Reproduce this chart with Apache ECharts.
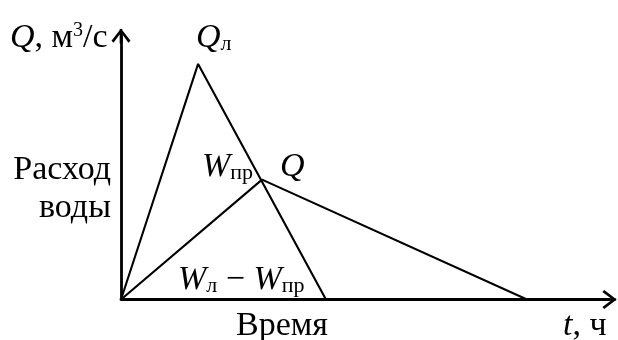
<!DOCTYPE html>
<html>
<head>
<meta charset="utf-8">
<script src="https://cdn.jsdelivr.net/npm/echarts@6/dist/echarts.min.js"></script>
<style>
  html, body { margin: 0; padding: 0; background: #fff; }
  #chart { width: 618px; height: 340px; }
</style>
</head>
<body>
<div id="chart"></div>
<script>
// Schematic flood hydrograph: inflow triangle and attenuated outflow
var timeRange = [0, 100];
var flowRange = [0, 100];
// inflow hydrograph: start, peak Qл, end
var inflowT = [0, 15.8, 42];
var inflowQ = [0, 89.4, 0];
// outflow hydrograph: start, peak Q (on the falling limb), end
var outflowT = [0, 28.9, 83.2];
var outflowQ = [0, 45.5, 0];

function pairs(xs, ys) { return xs.map(function (x, i) { return [x, ys[i]]; }); }

var FONT = 'Liberation Serif';
var BASE = 34, SUB = 22;
var rich = {
  i: { fontFamily: FONT, fontSize: BASE, fontStyle: 'italic', color: '#000' },
  n: { fontFamily: FONT, fontSize: BASE, color: '#000' },
  s: { fontFamily: FONT, fontSize: SUB, color: '#000', verticalAlign: 'bottom' },
  p: { fontFamily: FONT, fontSize: 20, color: '#000', verticalAlign: 'top' }
};
function label(x, y, text, align) {
  return {
    type: 'text', x: x, y: y, silent: true,
    style: { text: text, rich: rich, font: BASE + 'px "' + FONT + '"', align: align || 'left', verticalAlign: 'bottom', fill: '#000' }
  };
}

// open arrow head with a stem, pointing up
var arrowHead = 'path://M0 13 L10 0 L20 13 L17.8 15 L10 4.4 L2.2 15 Z M8.6 0.5 L11.4 0.5 L11.4 16 L8.6 16 Z';
var axisCommon = {
  type: 'value',
  axisLine: { show: true, symbol: ['none', arrowHead], symbolSize: [19, 16], lineStyle: { color: '#000', width: 2.8 } },
  axisTick: { show: false }, axisLabel: { show: false }, splitLine: { show: false }
};

var chart = echarts.init(document.getElementById('chart'), null, { renderer: 'canvas' });
chart.setOption({
  animation: false,
  backgroundColor: '#fff',
  grid: { left: 121, right: 9, top: 36, bottom: 40.5 },
  xAxis: Object.assign({}, axisCommon, { min: timeRange[0], max: timeRange[1] }),
  yAxis: Object.assign({}, axisCommon, { min: flowRange[0], max: flowRange[1] }),
  series: [
    { type: 'line', data: pairs(inflowT, inflowQ), symbol: 'none', lineStyle: { color: '#000', width: 2.1 } },
    { type: 'line', data: pairs(outflowT, outflowQ), symbol: 'none', lineStyle: { color: '#000', width: 2.1 } }
  ],
  graphic: [
    label(10, 55, '{i|Q}{n|, м}{p|3}{n|/с}'),
    label(196, 55, '{i|Q}{s|л}'),
    label(111, 187, '{n|Расход}', 'right'),
    label(111, 225, '{n|воды}', 'right'),
    label(202, 184, '{i|W}{s|пр}'),
    label(280, 184, '{i|Q}'),
    label(178, 297, '{i|W}{s|л}{n| − }{i|W}{s|пр}'),
    label(236, 343, '{n|Время}'),
    label(563, 343, '{i|t}{n|, ч}')
  ]
});
</script>
</body>
</html>
